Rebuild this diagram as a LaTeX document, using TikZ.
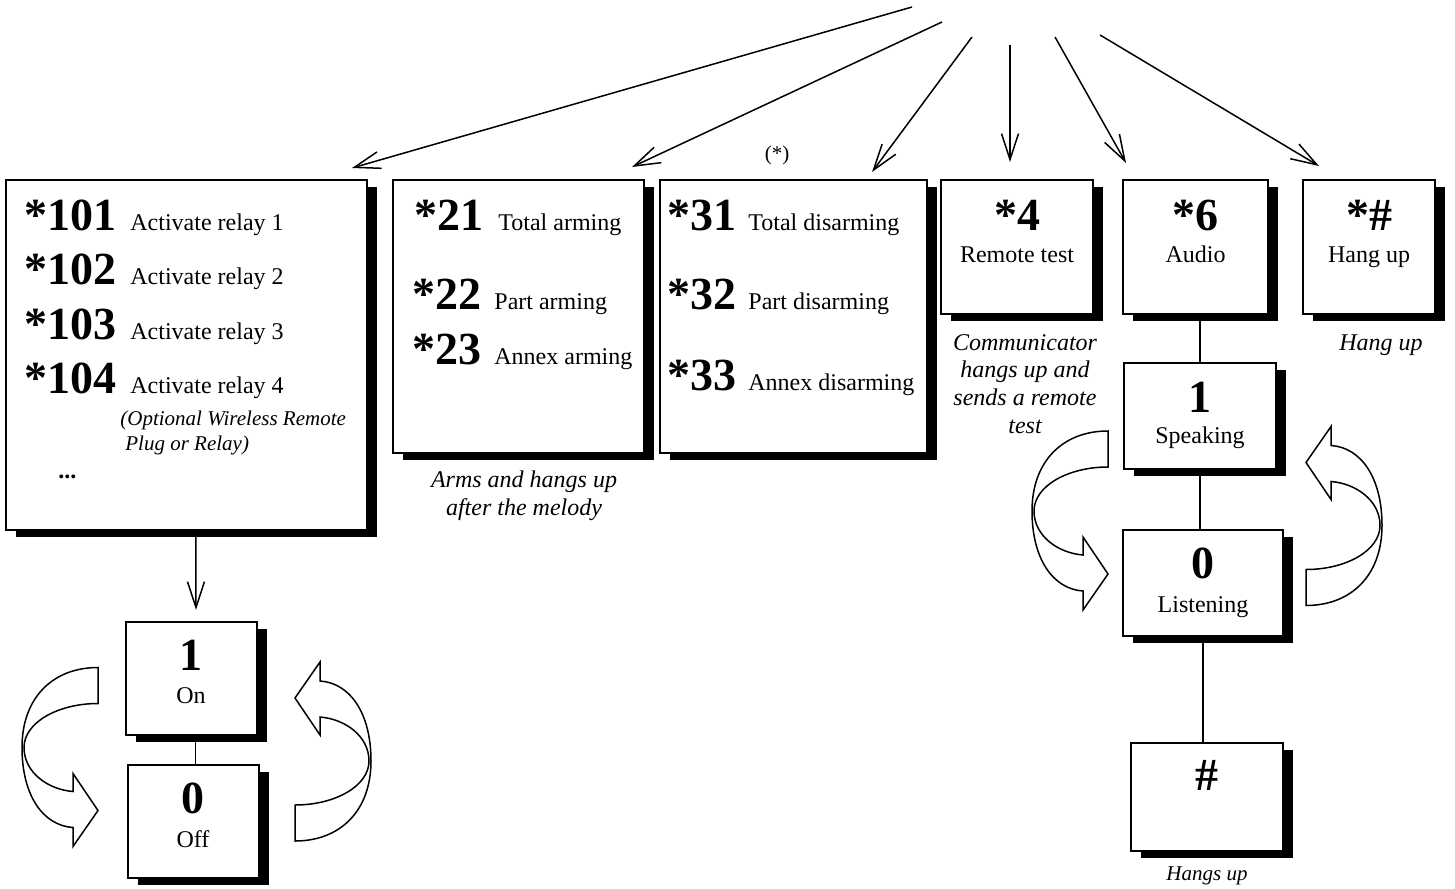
\documentclass[tikz,border=0pt]{standalone}
\usepackage{fontspec}
\setmainfont{Liberation Serif}
\usetikzlibrary{arrows.meta, shadows}

\newcommand{\keycode}{\fontsize{23}{26}\selectfont\bfseries}
\newcommand{\keytext}{\fontsize{12}{14}\selectfont}
\newcommand{\keynote}{\fontsize{12}{14}\selectfont\itshape}
\newcommand{\keysmall}{\fontsize{10.5}{12.5}\selectfont}

\tikzset{
  keybox/.style={draw, line width=0.9pt, fill=white, inner sep=0pt, outer sep=0pt,
    drop shadow={shadow xshift=5pt, shadow yshift=-3.5pt, fill=black, opacity=1}},
  lt/.style={inner sep=0pt, anchor=base west},
  ct/.style={inner sep=0pt, anchor=base},
  arr/.style={-{Straight Barb[length=13pt, width=8.5pt]}, line width=0.75pt},
  link/.style={line width=0.75pt},
  uturn/.pic={
    \draw[line width=0.75pt, fill=white]
      (0,-80) .. controls (-45,-80) and (-76,-50) .. (-76,0)
      .. controls (-76,48) and (-55,78) .. (-25,80)
      -- (-25,99) -- (0,63) -- (-25,26) -- (-25,44)
      .. controls (-50,42) and (-74,25) .. (-74,0)
      .. controls (-74,-25) and (-40,-44) .. (0,-44) -- cycle;
  }
}

\begin{document}
\begin{tikzpicture}[x=0.5pt, y=-0.5pt]
    \useasboundingbox (0,0) rectangle (1455,888);

    % Keys
    \node[keybox, minimum width=180.5pt, minimum height=175pt] (relay) at (186.5,355) {};
    \node[keybox, minimum width=125.5pt, minimum height=136.5pt] (arm) at (518.5,316.5) {};
    \node[keybox, minimum width=133.5pt, minimum height=136.5pt] (disarm) at (793.5,316.5) {};
    \node[keybox, minimum width=76pt, minimum height=67pt] (test) at (1017,247) {};
    \node[keybox, minimum width=72.5pt, minimum height=67pt] (audio) at (1195.5,247) {};
    \node[keybox, minimum width=66pt, minimum height=67pt] (hang) at (1369,247) {};
    \node[keybox, minimum width=76pt, minimum height=53pt] (speak) at (1200,416) {};
    \node[keybox, minimum width=80pt, minimum height=53pt] (listen) at (1203,583) {};
    \node[keybox, minimum width=76pt, minimum height=54pt] (hash) at (1207,797) {};
    \node[keybox, minimum width=65.5pt, minimum height=56.5pt] (on) at (191.5,678.5) {};
    \node[keybox, minimum width=65.5pt, minimum height=56.5pt] (off) at (193.5,821.5) {};

    % Relay codes
    \foreach \n/\yb in {1/230, 2/284, 3/339, 4/393} {
        \node[lt] (code10\n) at (24,\yb) {\keycode *10\n};
        \node[lt] (act\n) at (130,\yb) {\keytext Activate relay \n};
    }
    \node[lt] (opt1) at (120,425) {\keysmall\itshape (Optional Wireless Remote};
    \node[lt] (opt2) at (125,450) {\keysmall\itshape Plug or Relay)};
    \node[lt] (dots) at (58,478) {\keytext\bfseries ...};

    % Arming / disarming
    \node[lt] (code21) at (414,230) {\keycode *21};
    \node[lt] (txt21) at (498,230) {\keytext Total arming};
    \node[lt] (code22) at (412,309) {\keycode *22};
    \node[lt] (txt22) at (494,309) {\keytext Part arming};
    \node[lt] (code23) at (412,364) {\keycode *23};
    \node[lt] (txt23) at (494,364) {\keytext Annex arming};
    \node[lt] (code31) at (667,230) {\keycode *31};
    \node[lt] (txt31) at (748,230) {\keytext Total disarming};
    \node[lt] (code32) at (667,309) {\keycode *32};
    \node[lt] (txt32) at (748,309) {\keytext Part disarming};
    \node[lt] (code33) at (667,390) {\keycode *33};
    \node[lt] (txt33) at (748,390) {\keytext Annex disarming};
    \node[ct] (star) at (777,160) {\keysmall (*)};

    % Single keys
    \node[ct] (code4) at (1017,230) {\keycode *4};
    \node[ct] (txt4) at (1017,262) {\keytext Remote test};
    \node[ct] (code6) at (1195.5,230) {\keycode *6};
    \node[ct] (txt6) at (1195.5,262) {\keytext Audio};
    \node[ct] (codeh) at (1369,230) {\keycode *\#};
    \node[ct] (txth) at (1369,262) {\keytext Hang up};
    \node[ct] (sp1) at (1200,412) {\keycode 1};
    \node[ct] (sp2) at (1200,443) {\keytext Speaking};
    \node[ct] (li1) at (1203,578) {\keycode 0};
    \node[ct] (li2) at (1203,612) {\keytext Listening};
    \node[ct] (ha1) at (1207,790) {\keycode \#};
    \node[ct] (on1) at (191,670) {\keycode 1};
    \node[ct] (on2) at (191,703) {\keytext On};
    \node[ct] (off1) at (193,813) {\keycode 0};
    \node[ct] (off2) at (193,847) {\keytext Off};

    % Notes
    \foreach \t [count=\i] in {Communicator, hangs up and, sends a remote, test}
        \node[ct] (comm\i) at (1025,{350+27.7*(\i-1)}) {\keynote \t};
    \node[ct] (hangnote) at (1381,350) {\keynote Hang up};
    \node[ct] (armnote1) at (524,487) {\keynote Arms and hangs up};
    \node[ct] (armnote2) at (524,515) {\keynote after the melody};
    \node[ct] (hashnote) at (1207,880) {\keysmall\itshape Hangs up};

    % Menu arrows
    \coordinate (s1) at (912,7);
    \coordinate (s2) at (942,22);
    \coordinate (s3) at (972,37);
    \coordinate (s4) at (1010,45);
    \coordinate (s5) at (1055,37);
    \coordinate (s6) at (1100,35);
    \draw[arr] (s1) -- ([shift={(-15,-12)}]relay.north east);
    \draw[arr] (s2) -- ([shift={(-12,-13)}]arm.north east);
    \draw[arr] (s3) -- ([shift={(-55,-8)}]disarm.north east);
    \draw[arr] (s4) -- ([shift={(-7,-18)}]test.north);
    \draw[arr] (s5) -- ([shift={(3,-17)}]audio.north west);
    \draw[arr] (s6) -- ([shift={(16,-14)}]hang.north west);
    \draw[arr] ([xshift=2.2pt]relay.south -| on.north) -- ([shift={(4.5,-12)}]on.north);

    % Links
    \draw[link] (speak.north |- audio.south) -- (speak.north);
    \draw[link] (speak.south) -- (speak.south |- listen.north);
    \draw[link] (listen.south) -- (listen.south |- hash.north);
    \draw[link] ([xshift=2pt]on.south) -- ([xshift=2pt]on.south |- off.north);

    % Toggle arrows
    \pic at (98,747.5) {uturn};
    \pic[rotate=180] at (295,761) {uturn};
    \pic at (1108,511) {uturn};
    \pic[rotate=180] at (1306,525.5) {uturn};
\end{tikzpicture}
\end{document}
